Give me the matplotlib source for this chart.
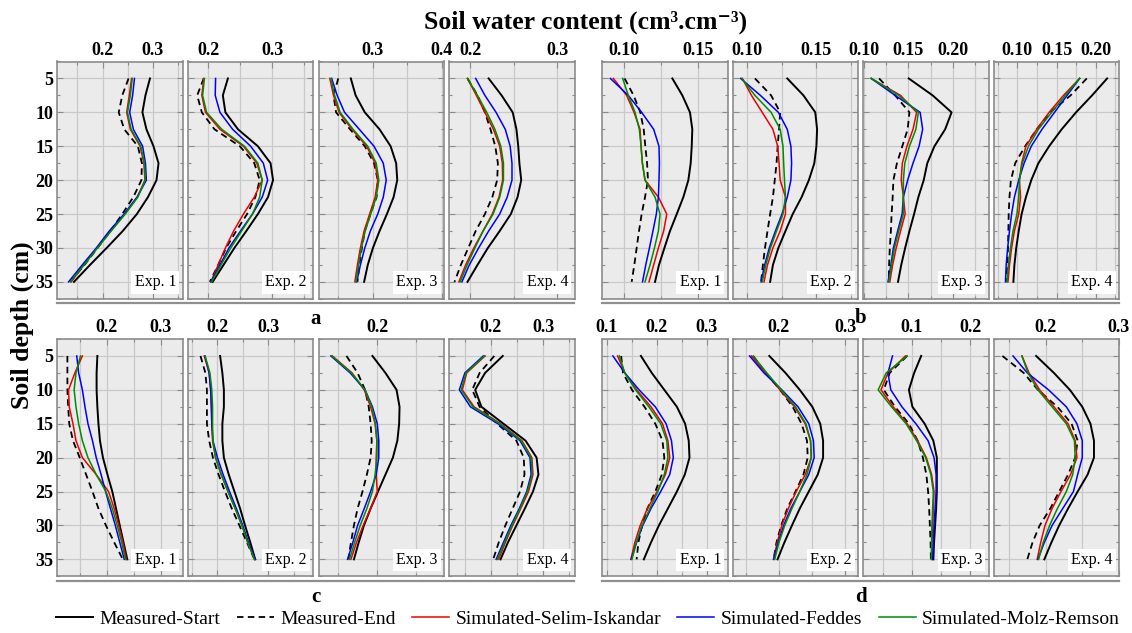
import matplotlib
matplotlib.use("Agg")
import matplotlib.pyplot as plt
from matplotlib.lines import Line2D
from matplotlib.ticker import MultipleLocator, FormatStrFormatter

plt.rcParams['font.family'] = ['Liberation Serif', 'DejaVu Serif']

# ---------------- data ----------------
depth = [5, 7.5, 10, 12.5, 15, 17.5, 20, 22.5, 25, 27.5, 30, 32.5, 35]
experiments = ["Exp. 1", "Exp. 2", "Exp. 3", "Exp. 4"]
series_names = ["Measured-Start", "Measured-End", "Simulated-Selim-Iskandar",
                "Simulated-Feddes", "Simulated-Molz-Remson"]

# group a
a_start = [
    [0.294, 0.285, 0.279, 0.287, 0.301, 0.311, 0.307, 0.290, 0.268, 0.240, 0.208, 0.175, 0.143],
    [0.2305, 0.2226, 0.2266, 0.2463, 0.2774, 0.2972, 0.3011, 0.2932, 0.2774, 0.2593, 0.2407, 0.2237, 0.2068],
    [0.2679, 0.2749, 0.2882, 0.3096, 0.3257, 0.3337, 0.3353, 0.3300, 0.3203, 0.3096, 0.3000, 0.2925, 0.2872],
    [0.2213, 0.2362, 0.2489, 0.2532, 0.2553, 0.2566, 0.2587, 0.2545, 0.2468, 0.2340, 0.2204, 0.2085, 0.1970],
]
a_end = [
    [0.2515, 0.239, 0.232, 0.243, 0.270, 0.278, 0.277, 0.261, 0.239, 0.2155, 0.190, 0.164, 0.136],
    [0.1927, 0.1825, 0.1898, 0.2096, 0.2492, 0.2718, 0.2802, 0.2734, 0.2605, 0.2435, 0.2277, 0.2153, 0.2023],
    [0.2497, 0.2428, 0.2465, 0.2668, 0.2882, 0.3016, 0.3070, 0.3053, 0.2963, 0.2882, 0.2840, 0.2802, 0.2775],
    [0.1970, 0.2085, 0.2170, 0.2234, 0.2289, 0.2319, 0.2311, 0.2255, 0.2170, 0.2064, 0.1979, 0.1894, 0.1821],
]
a_selim = [
    [0.2574, 0.2530, 0.2478, 0.2550, 0.2745, 0.2820, 0.2840, 0.2690, 0.2440, 0.2160, 0.1890, 0.1625, 0.1375],
    [0.1927, 0.1898, 0.1955, 0.2181, 0.2548, 0.2757, 0.2842, 0.2718, 0.2548, 0.2395, 0.2266, 0.2153, 0.2040],
    [0.2374, 0.2428, 0.2508, 0.2695, 0.2909, 0.3032, 0.3070, 0.3032, 0.2952, 0.2872, 0.2818, 0.2775, 0.2738],
    [0.1970, 0.2072, 0.2170, 0.2268, 0.2340, 0.2370, 0.2374, 0.2332, 0.2255, 0.2149, 0.2043, 0.1949, 0.1872],
]
a_feddes = [
    [0.2632, 0.2596, 0.2537, 0.2610, 0.2794, 0.2850, 0.2868, 0.2684, 0.2426, 0.2132, 0.1875, 0.1596, 0.1324],
    [0.2113, 0.2107, 0.2181, 0.2379, 0.2661, 0.2859, 0.2927, 0.2842, 0.2689, 0.2503, 0.2322, 0.2181, 0.2040],
    [0.2401, 0.2481, 0.2588, 0.2802, 0.3016, 0.3150, 0.3193, 0.3150, 0.3070, 0.2963, 0.2882, 0.2818, 0.2765],
    [0.2064, 0.2170, 0.2298, 0.2404, 0.2460, 0.2481, 0.2481, 0.2426, 0.2340, 0.2213, 0.2098, 0.1991, 0.1906],
]
a_molz = [
    [0.2588, 0.2551, 0.2493, 0.2566, 0.2757, 0.2830, 0.2846, 0.2699, 0.2449, 0.2169, 0.1897, 0.1632, 0.1360],
    [0.1938, 0.1910, 0.1972, 0.2209, 0.2565, 0.2774, 0.2842, 0.2802, 0.2689, 0.2520, 0.2350, 0.2198, 0.2051],
    [0.2390, 0.2444, 0.2524, 0.2711, 0.2925, 0.3048, 0.3086, 0.3048, 0.2968, 0.2888, 0.2834, 0.2791, 0.2754],
    [0.1970, 0.2085, 0.2191, 0.2285, 0.2353, 0.2383, 0.2383, 0.2340, 0.2264, 0.2149, 0.2055, 0.1966, 0.1885],
]

# group b
b_start = [
    [0.1327, 0.1395, 0.1447, 0.1463, 0.1459, 0.1452, 0.1436, 0.1402, 0.1357, 0.1311, 0.1273, 0.1236, 0.1209],
    [0.1291, 0.1407, 0.1492, 0.1505, 0.1500, 0.1485, 0.1446, 0.1394, 0.1330, 0.1278, 0.1227, 0.1188, 0.1168],
    [0.1504, 0.1772, 0.1984, 0.1912, 0.1792, 0.1712, 0.1672, 0.1612, 0.1564, 0.1512, 0.1464, 0.1420, 0.1384],
    [0.2146, 0.1954, 0.1749, 0.1566, 0.1406, 0.1269, 0.1178, 0.1110, 0.1055, 0.1018, 0.0986, 0.0963, 0.0950],
]
b_end = [
    [0.1002, 0.1063, 0.1109, 0.1132, 0.1143, 0.1155, 0.1161, 0.1141, 0.1118, 0.1100, 0.1084, 0.1068, 0.1050],
    [0.1059, 0.1175, 0.1240, 0.1232, 0.1222, 0.1214, 0.1201, 0.1188, 0.1168, 0.1149, 0.1131, 0.1116, 0.1103],
    [0.1172, 0.1352, 0.1512, 0.1492, 0.1432, 0.1372, 0.1332, 0.1324, 0.1312, 0.1304, 0.1292, 0.1284, 0.1280],
    [0.1886, 0.1680, 0.1420, 0.1247, 0.1100, 0.0973, 0.0918, 0.0900, 0.0890, 0.0886, 0.0881, 0.0872, 0.0858],
]
b_selim = [
    [0.0925, 0.1016, 0.1066, 0.1107, 0.1114, 0.1123, 0.1141, 0.1232, 0.1289, 0.1268, 0.1232, 0.1200, 0.1168],
    [0.0969, 0.1034, 0.1111, 0.1188, 0.1222, 0.1232, 0.1240, 0.1278, 0.1278, 0.1240, 0.1188, 0.1149, 0.1124],
    [0.1084, 0.1412, 0.1592, 0.1552, 0.1484, 0.1432, 0.1420, 0.1444, 0.1464, 0.1412, 0.1364, 0.1324, 0.1292],
    [0.1795, 0.1589, 0.1406, 0.1247, 0.1110, 0.1055, 0.1027, 0.1041, 0.1018, 0.0963, 0.0927, 0.0900, 0.0881],
]
b_feddes = [
    [0.0905, 0.1027, 0.1118, 0.1200, 0.1236, 0.1239, 0.1236, 0.1232, 0.1218, 0.1195, 0.1171, 0.1146, 0.1124],
    [0.0956, 0.1098, 0.1227, 0.1291, 0.1317, 0.1322, 0.1317, 0.1291, 0.1253, 0.1206, 0.1162, 0.1129, 0.1103],
    [0.1084, 0.1352, 0.1632, 0.1660, 0.1620, 0.1552, 0.1492, 0.1444, 0.1430, 0.1380, 0.1332, 0.1304, 0.1272],
    [0.1795, 0.1635, 0.1475, 0.1315, 0.1178, 0.1087, 0.1018, 0.0963, 0.0927, 0.0900, 0.0877, 0.0858, 0.0849],
]
b_molz = [
    [0.0989, 0.1027, 0.1073, 0.1102, 0.1114, 0.1123, 0.1141, 0.1209, 0.1243, 0.1232, 0.1205, 0.1175, 0.1141],
    [0.0964, 0.1059, 0.1175, 0.1240, 0.1260, 0.1265, 0.1271, 0.1278, 0.1260, 0.1214, 0.1170, 0.1137, 0.1111],
    [0.1084, 0.1392, 0.1612, 0.1584, 0.1512, 0.1460, 0.1444, 0.1444, 0.1444, 0.1392, 0.1344, 0.1312, 0.1280],
    [0.1795, 0.1612, 0.1438, 0.1269, 0.1142, 0.1064, 0.1027, 0.1018, 0.0995, 0.0945, 0.0913, 0.0886, 0.0868],
]

# group c
c_start = [
    [0.1828, 0.1814, 0.1814, 0.1828, 0.1848, 0.1876, 0.1931, 0.2014, 0.2103, 0.2172, 0.2241, 0.2310, 0.2379],
    [0.2052, 0.2096, 0.2126, 0.2126, 0.2096, 0.2096, 0.2126, 0.2222, 0.2333, 0.2444, 0.2541, 0.2644, 0.2741],
    [0.1938, 0.2104, 0.2246, 0.2284, 0.2279, 0.2256, 0.2199, 0.2104, 0.2009, 0.1915, 0.1830, 0.1763, 0.1702],
    [0.2225, 0.1887, 0.1697, 0.1817, 0.2239, 0.2662, 0.2873, 0.2908, 0.2803, 0.2648, 0.2486, 0.2324, 0.2183],
]
c_end = [
    [0.1276, 0.1276, 0.1276, 0.1290, 0.1310, 0.1379, 0.1503, 0.1621, 0.1738, 0.1848, 0.1986, 0.2138, 0.2297],
    [0.1667, 0.1763, 0.1793, 0.1793, 0.1793, 0.1837, 0.1911, 0.2022, 0.2148, 0.2281, 0.2430, 0.2578, 0.2726],
    [0.1607, 0.1749, 0.1844, 0.1891, 0.1915, 0.1929, 0.1915, 0.1867, 0.1811, 0.1749, 0.1702, 0.1664, 0.1631],
    [0.2063, 0.1782, 0.1641, 0.1782, 0.2120, 0.2486, 0.2627, 0.2641, 0.2556, 0.2415, 0.2275, 0.2148, 0.2042],
]
c_selim = [
    [0.1552, 0.1414, 0.1297, 0.1310, 0.1379, 0.1434, 0.1552, 0.1807, 0.2034, 0.2138, 0.2221, 0.2297, 0.2359],
    [0.1741, 0.1837, 0.1867, 0.1881, 0.1889, 0.1904, 0.1963, 0.2074, 0.2207, 0.2348, 0.2481, 0.2593, 0.2726],
    [0.1427, 0.1678, 0.1834, 0.1915, 0.1972, 0.1995, 0.1986, 0.1986, 0.2000, 0.1915, 0.1820, 0.1735, 0.1664],
    [0.1887, 0.1535, 0.1451, 0.1676, 0.2183, 0.2592, 0.2782, 0.2803, 0.2718, 0.2570, 0.2415, 0.2275, 0.2148],
]
c_feddes = [
    [0.1448, 0.1483, 0.1552, 0.1600, 0.1655, 0.1738, 0.1807, 0.1897, 0.1979, 0.2069, 0.2159, 0.2241, 0.2324],
    [0.1756, 0.1837, 0.1867, 0.1881, 0.1889, 0.1911, 0.2000, 0.2111, 0.2237, 0.2370, 0.2496, 0.2607, 0.2741],
    [0.1408, 0.1654, 0.1844, 0.1938, 0.2000, 0.2019, 0.2019, 0.1986, 0.1915, 0.1834, 0.1749, 0.1688, 0.1621],
    [0.1852, 0.1500, 0.1394, 0.1606, 0.2134, 0.2556, 0.2746, 0.2768, 0.2683, 0.2542, 0.2380, 0.2239, 0.2099],
]
c_molz = [
    [0.1517, 0.1434, 0.1400, 0.1434, 0.1483, 0.1552, 0.1655, 0.1807, 0.1986, 0.2103, 0.2193, 0.2276, 0.2345],
    [0.1756, 0.1852, 0.1889, 0.1904, 0.1904, 0.1911, 0.1963, 0.2074, 0.2207, 0.2348, 0.2481, 0.2593, 0.2726],
    [0.1418, 0.1669, 0.1844, 0.1929, 0.1976, 0.1995, 0.1995, 0.1972, 0.1938, 0.1867, 0.1782, 0.1711, 0.1645],
    [0.1873, 0.1521, 0.1430, 0.1655, 0.2169, 0.2577, 0.2768, 0.2789, 0.2697, 0.2556, 0.2401, 0.2261, 0.2120],
]

# group d
d_start = [
    [0.1683, 0.1900, 0.2151, 0.2403, 0.2568, 0.2640, 0.2655, 0.2561, 0.2403, 0.2223, 0.2043, 0.1885, 0.1741],
    [0.1853, 0.2098, 0.2315, 0.2505, 0.2625, 0.2668, 0.2668, 0.2587, 0.2451, 0.2315, 0.2196, 0.2082, 0.1978],
    [0.1162, 0.1042, 0.0952, 0.1012, 0.1222, 0.1371, 0.1431, 0.1431, 0.1431, 0.1419, 0.1401, 0.1383, 0.1371],
    [0.1869, 0.2112, 0.2330, 0.2500, 0.2612, 0.2660, 0.2660, 0.2573, 0.2437, 0.2306, 0.2184, 0.2078, 0.1981],
]
d_end = [
    [0.1288, 0.1324, 0.1504, 0.1755, 0.1971, 0.2115, 0.2151, 0.2101, 0.1971, 0.1813, 0.1705, 0.1633, 0.1597],
    [0.1609, 0.1799, 0.2016, 0.2207, 0.2342, 0.2424, 0.2435, 0.2370, 0.2250, 0.2125, 0.2033, 0.1962, 0.1918],
    [0.0922, 0.0623, 0.0521, 0.0713, 0.0952, 0.1102, 0.1192, 0.1251, 0.1281, 0.1299, 0.1311, 0.1323, 0.1329],
    [0.1408, 0.1699, 0.1893, 0.2160, 0.2354, 0.2437, 0.2403, 0.2306, 0.2184, 0.2063, 0.1917, 0.1820, 0.1748],
]
d_selim = [
    [0.1216, 0.1360, 0.1597, 0.1885, 0.2115, 0.2223, 0.2259, 0.2173, 0.2007, 0.1813, 0.1669, 0.1561, 0.1482],
    [0.1582, 0.1793, 0.2016, 0.2234, 0.2397, 0.2478, 0.2489, 0.2397, 0.2261, 0.2141, 0.2043, 0.1973, 0.1918],
    [0.0892, 0.0593, 0.0473, 0.0683, 0.0922, 0.1102, 0.1251, 0.1341, 0.1383, 0.1371, 0.1359, 0.1347, 0.1341],
    [0.1675, 0.1772, 0.1917, 0.2112, 0.2306, 0.2403, 0.2427, 0.2340, 0.2209, 0.2087, 0.1990, 0.1932, 0.1883],
]
d_feddes = [
    [0.1122, 0.1360, 0.1647, 0.1971, 0.2187, 0.2295, 0.2331, 0.2259, 0.2079, 0.1885, 0.1719, 0.1597, 0.1489],
    [0.1554, 0.1772, 0.2043, 0.2288, 0.2451, 0.2522, 0.2533, 0.2451, 0.2315, 0.2179, 0.2071, 0.1989, 0.1918],
    [0.0671, 0.0593, 0.0641, 0.0832, 0.1072, 0.1281, 0.1383, 0.1419, 0.1419, 0.1401, 0.1383, 0.1371, 0.1359],
    [0.1553, 0.1748, 0.2039, 0.2282, 0.2427, 0.2500, 0.2500, 0.2437, 0.2379, 0.2233, 0.2087, 0.1981, 0.1893],
]
d_molz = [
    [0.1252, 0.1360, 0.1576, 0.1842, 0.2079, 0.2201, 0.2223, 0.2151, 0.2022, 0.1863, 0.1705, 0.1590, 0.1504],
    [0.1609, 0.1815, 0.2033, 0.2250, 0.2408, 0.2478, 0.2489, 0.2424, 0.2315, 0.2196, 0.2087, 0.2000, 0.1935],
    [0.0922, 0.0563, 0.0425, 0.0653, 0.0904, 0.1084, 0.1240, 0.1329, 0.1371, 0.1359, 0.1347, 0.1341, 0.1335],
    [0.1675, 0.1757, 0.1893, 0.2087, 0.2282, 0.2393, 0.2403, 0.2369, 0.2282, 0.2160, 0.2053, 0.1966, 0.1903],
]

groups = {
    'a': [a_start, a_end, a_selim, a_feddes, a_molz],
    'b': [b_start, b_end, b_selim, b_feddes, b_molz],
    'c': [c_start, c_end, c_selim, c_feddes, c_molz],
    'd': [d_start, d_end, d_selim, d_feddes, d_molz],
}

# ---------------- layout / style ----------------
W, H = 1132, 633
xlims = {
    'a': [(0.110, 0.359), (0.168, 0.364), (0.221, 0.403), (0.176, 0.320)],
    'b': [(0.085, 0.1704), (0.090, 0.180), (0.0995, 0.240), (0.070, 0.230)],
    'c': [(0.109, 0.340), (0.142, 0.388), (0.125, 0.285), (0.120, 0.360)],
    'd': [(0.091, 0.342), (0.130, 0.320), (0.017, 0.232), (0.129, 0.3005)],
}
col_left = {'a': [57.3, 187.9, 318.5, 449.2], 'c': [57.3, 187.9, 318.5, 449.2],
            'b': [602.3, 732.8, 863.3, 993.8], 'd': [602.3, 732.8, 863.3, 993.8]}
row_top = {'a': 61.5, 'b': 61.5, 'c': 339.0, 'd': 339.0}
panel_w, panel_h = 125.4, 237.3

styles = [
    dict(color='black', lw=1.4, ls='-'),
    dict(color='black', lw=1.3, ls=(0, (3.6, 2.4))),
    dict(color='#f00000', lw=1.1, ls='-'),
    dict(color='#0000ff', lw=1.1, ls='-'),
    dict(color='#008c00', lw=1.1, ls='-'),
]
frame_c = '#8c8c8c'
grid_c = '#c9c9c9'

fig = plt.figure(figsize=(W / 100, H / 100), dpi=100)

for g, series in groups.items():
    for i in range(4):
        left = col_left[g][i]
        top = row_top[g]
        ax = fig.add_axes([left / W, 1 - (top + panel_h) / H, panel_w / W, panel_h / H])
        ax.set_facecolor('#ebebeb')
        for s_idx, s in enumerate(series):
            ax.plot(s[i], depth, **styles[s_idx], zorder=3)
        ax.set_xlim(*xlims[g][i])
        ax.set_ylim(37.5, 2.5)
        if g == 'b':
            ax.xaxis.set_major_locator(MultipleLocator(0.05))
            ax.xaxis.set_minor_locator(MultipleLocator(0.025))
            ax.xaxis.set_major_formatter(FormatStrFormatter('%.2f'))
        else:
            ax.xaxis.set_major_locator(MultipleLocator(0.1))
            ax.xaxis.set_minor_locator(MultipleLocator(0.05))
            ax.xaxis.set_major_formatter(FormatStrFormatter('%.1f'))
        ax.yaxis.set_major_locator(MultipleLocator(5))
        ax.yaxis.set_minor_locator(MultipleLocator(2.5))
        ax.yaxis.set_major_formatter(FormatStrFormatter('%d'))
        ax.xaxis.tick_top()
        ax.tick_params(which='both', direction='in', top=True, bottom=True,
                       left=True, right=True, color=frame_c, labeltop=True,
                       labelbottom=False, pad=2)
        ax.tick_params(which='major', length=4, width=0.8)
        ax.tick_params(which='minor', length=2.5, width=0.8)
        ax.tick_params(axis='y', labelleft=(i == 0 and g in ('a', 'c')), pad=3)
        for lab in ax.get_xticklabels() + ax.get_yticklabels():
            lab.set_fontfamily('Liberation Serif')
            lab.set_fontweight('bold')
            lab.set_fontsize(13)
        ax.grid(True, which='major', color=grid_c, lw=0.9, zorder=0)
        ax.grid(True, which='minor', axis='x', color=grid_c, lw=0.9, zorder=0)
        ax.set_axisbelow(True)
        for sp in ax.spines.values():
            sp.set_color(frame_c)
            sp.set_linewidth(1.2)
        ax.text(0.948, 0.035, experiments[i], transform=ax.transAxes, ha='right',
                va='bottom', fontsize=11.5, family='Liberation Serif', zorder=6,
                bbox=dict(boxstyle='square,pad=0.2', fc='white', ec='none'))

# group separators and letters
sep = [('a', 57, 574, 303.3, 315.5, 319), ('b', 602, 1119, 303.3, 860.5, 318),
       ('c', 57, 574, 581.0, 315.5, 597), ('d', 602, 1119, 581.0, 860.5, 597)]
for letter, x0, x1, y, tx, ty in sep:
    fig.add_artist(Line2D([x0 / W, x1 / W], [1 - y / H, 1 - y / H], color='#8f8f8f',
                          lw=1.6, transform=fig.transFigure))
    fig.text(tx / W, 1 - ty / H, letter, ha='center', va='center', fontsize=15,
             fontweight='bold', family='Liberation Serif')

fig.text(586 / W, 1 - 22 / H, 'Soil water content (cm\u00b3.cm\u207b\u00b3)',
         ha='center', va='center', fontsize=18.5, fontweight='bold',
         family=['Liberation Serif', 'DejaVu Serif'])
fig.text(22 / W, 1 - 325 / H, 'Soil depth (cm)', rotation=90, ha='center',
         va='center', fontsize=18.5, fontweight='bold')

handles = [Line2D([], [], **st) for st in styles]
fig.legend(handles, series_names, loc='center', bbox_to_anchor=(588 / W, 1 - 619 / H),
           ncol=5, frameon=False, fontsize=14, handlelength=1.9, handletextpad=0.32,
           columnspacing=0.85, borderaxespad=0, borderpad=0)

fig.savefig('out.png', dpi=100)
